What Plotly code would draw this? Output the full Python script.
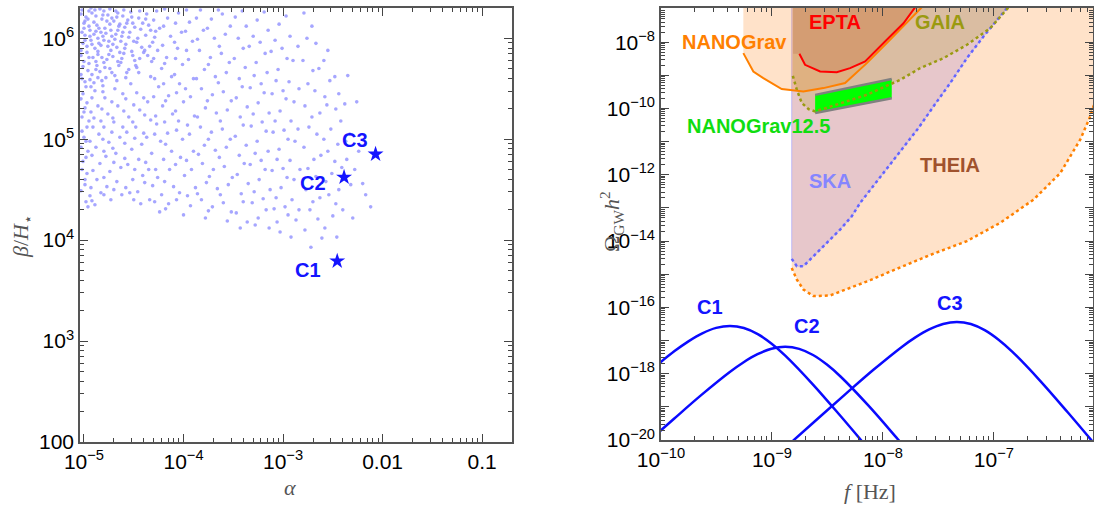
import numpy as np
import plotly.graph_objects as go

# ---------------- LEFT PANEL DATA (log10 alpha, log10 beta/H) ----------------
scan_points = [
    (-5.02,6.28),(-4.98,6.21),(-4.95,6.12),(-4.99,6.03),(-5.01,5.95),(-4.97,5.86),(-5.00,5.77),(-4.96,5.68),(-5.02,5.60),(-4.98,5.52),
    (-4.92,6.25),(-4.90,6.16),(-4.88,6.07),(-4.93,5.98),(-4.89,5.90),(-4.91,5.81),(-4.87,5.73),(-4.92,5.64),(-4.90,5.56),
    (-4.84,6.29),(-4.82,6.19),(-4.85,6.10),(-4.81,6.02),(-4.83,5.93),(-4.86,5.84),(-4.80,5.76),(-4.84,5.67),(-4.82,5.58),
    (-4.76,6.23),(-4.74,6.14),(-4.78,6.05),(-4.75,5.97),(-4.73,5.88),(-4.77,5.79),(-4.74,5.70),(-4.78,5.61),
    (-4.68,6.27),(-4.70,6.17),(-4.66,6.08),(-4.69,5.99),(-4.67,5.91),(-4.71,5.82),(-4.65,5.73),(-4.69,5.63),
    (-4.61,6.22),(-4.59,6.11),(-4.62,6.02),(-4.58,5.94),(-4.60,5.85),(-4.63,5.76),(-4.57,5.66),
    (-4.53,6.26),(-4.51,6.15),(-4.54,6.06),(-4.50,5.97),(-4.52,5.87),(-4.49,5.78),(-4.55,5.69),
    (-4.45,6.20),(-4.43,6.09),(-4.46,6.00),(-4.42,5.91),(-4.44,5.80),(-4.47,5.71),
    (-4.37,6.24),(-4.35,6.13),(-4.38,6.03),(-4.34,5.92),(-4.36,5.83),
    (-4.30,6.18),(-4.28,6.07),(-4.31,5.96),
    (-4.99,6.17),(-4.94,6.08),(-4.97,5.92),(-4.88,6.22),(-4.86,6.00),(-4.80,6.27),(-4.79,6.10),(-4.72,6.20),(-4.72,6.02),(-4.64,6.14),
    (-4.63,5.97),(-4.56,6.18),(-4.95,5.81),(-4.88,5.77),(-5.03,5.88),(-5.00,6.10),(-4.93,6.30),(-4.85,5.95),(-4.76,5.92),(-4.66,6.25),
    (-5.01,5.45),(-4.97,5.36),(-5.00,5.27),(-4.95,5.18),(-5.02,5.08),(-4.98,4.98),(-4.96,4.88),(-5.01,4.78),(-4.97,4.66),(-4.99,4.55),(-4.94,4.44),(-4.96,4.33),
    (-4.89,5.48),(-4.86,5.33),(-4.90,5.21),(-4.85,5.05),(-4.88,4.92),(-4.84,4.76),(-4.87,4.60),(-4.83,4.47),(-4.89,4.35),
    (-4.79,5.41),(-4.76,5.25),(-4.80,5.12),(-4.75,4.97),(-4.78,4.83),(-4.74,4.68),(-4.77,4.53),(-4.73,4.40),
    (-4.69,5.50),(-4.66,5.33),(-4.70,5.17),(-4.64,5.02),(-4.68,4.86),(-4.63,4.72),(-4.67,4.58),(-4.62,4.45),
    (-4.58,5.40),(-4.55,5.22),(-4.57,5.07),(-4.52,4.90),(-4.56,4.75),(-4.51,4.60),(-4.54,4.47),
    (-4.47,5.46),(-4.44,5.29),(-4.48,5.12),(-4.42,4.95),(-4.45,4.80),(-4.41,4.64),(-4.46,4.48),(-4.43,4.36),
    (-4.36,5.37),(-4.33,5.19),(-4.37,5.02),(-4.32,4.86),(-4.35,4.70),(-4.31,4.54),(-4.34,4.40),
    (-4.27,6.27),(-4.24,6.10),(-4.26,5.88),(-4.22,5.70),(-4.25,5.52),(-4.21,5.33),(-4.27,5.15),(-4.23,4.98),(-4.20,4.80),(-4.26,4.62),(-4.22,4.45),(-4.24,4.28),
    (-4.16,6.20),(-4.13,6.02),(-4.17,5.81),(-4.12,5.62),(-4.15,5.43),(-4.11,5.25),(-4.16,5.06),(-4.12,4.88),(-4.14,4.70),(-4.10,4.53),(-4.15,4.36),
    (-4.05,6.25),(-4.02,6.06),(-4.06,5.90),(-4.01,5.74),(-4.04,5.55),(-4.00,5.37),(-4.05,5.18),(-4.01,5.00),(-4.03,4.82),(-3.99,4.64),(-4.04,4.47),(-4.00,4.25),
    (-3.94,6.16),(-3.91,5.97),(-3.95,5.79),(-3.90,5.60),(-3.93,5.42),(-3.89,5.23),(-3.94,5.05),(-3.90,4.88),(-3.92,4.70),(-3.88,4.52),(-3.93,4.34),
    (-3.83,6.28),(-3.80,6.08),(-3.84,5.88),(-3.79,5.69),(-3.82,5.50),(-3.78,5.31),(-3.83,5.12),(-3.79,4.94),(-3.81,4.76),(-3.77,4.57),(-3.82,4.40),(-3.78,4.22),
    (-3.72,6.19),(-3.69,6.00),(-3.73,5.81),(-3.68,5.62),(-3.71,5.44),(-3.67,5.26),(-3.72,5.07),(-3.68,4.89),(-3.70,4.70),(-3.66,4.51),(-3.71,4.33),
    (-3.61,6.24),(-3.58,6.04),(-3.62,5.85),(-3.57,5.66),(-3.60,5.47),(-3.56,5.29),(-3.61,5.10),(-3.57,4.92),(-3.59,4.73),(-3.55,4.55),(-3.60,4.37),(-3.56,4.19),
    (-3.48,6.21),(-3.45,6.00),(-3.49,5.80),(-3.44,5.60),(-3.47,5.41),(-3.43,5.22),(-3.48,5.03),(-3.44,4.84),(-3.46,4.65),(-3.42,4.46),(-3.47,4.27),(-3.43,4.12),
    (-3.37,6.12),(-3.34,5.92),(-3.38,5.71),(-3.33,5.51),(-3.36,5.32),(-3.32,5.13),(-3.37,4.94),(-3.33,4.75),(-3.35,4.56),(-3.31,4.37),(-3.36,4.18),
    (-3.26,6.18),(-3.23,5.96),(-3.27,5.76),(-3.22,5.55),(-3.25,5.36),(-3.21,5.17),(-3.26,4.98),(-3.22,4.79),(-3.24,4.60),(-3.20,4.41),(-3.25,4.22),
    (-3.15,6.08),(-3.12,5.87),(-3.16,5.66),(-3.11,5.45),(-3.14,5.26),(-3.10,5.07),(-3.15,4.88),(-3.11,4.69),(-3.13,4.50),(-3.09,4.31),(-3.14,4.12),
    (-3.04,6.14),(-3.01,5.90),(-3.05,5.69),(-3.00,5.48),(-3.03,5.28),(-2.99,5.09),(-3.04,4.90),(-3.00,4.71),(-3.02,4.52),(-2.98,4.33),(-3.03,4.08),
    (-2.93,6.02),(-2.90,5.78),(-2.94,5.57),(-2.89,5.37),(-2.92,5.18),(-2.88,4.98),(-2.93,4.79),(-2.89,4.60),(-2.91,4.40),(-2.87,4.20),(-2.92,4.03),
    (-2.79,6.25),(-2.76,6.00),(-2.80,5.78),(-2.75,5.55),(-2.78,5.33),(-2.74,5.12),(-2.79,4.92),(-2.75,4.71),(-2.77,4.50),(-2.73,4.30),(-2.78,4.10),(-2.72,3.93),
    (-2.67,5.95),(-2.64,5.70),(-2.68,5.48),(-2.63,5.26),(-2.66,5.05),(-2.62,4.84),(-2.67,4.63),(-2.63,4.42),(-2.65,4.21),(-2.61,4.02),
    (-2.55,5.88),(-2.53,5.58),(-2.56,5.34),(-2.52,5.10),(-2.55,4.88),(-2.51,4.66),(-2.54,4.45),(-2.50,4.24),(-2.46,4.03),
    (-2.44,5.45),(-2.42,5.18),(-2.45,4.95),(-2.41,4.72),(-2.44,4.50),(-2.40,4.30),
    (-2.35,5.63),(-2.33,5.05),(-2.36,4.80),(-2.32,4.55),(-2.30,4.22),
    (-2.26,5.37),(-2.24,4.88),(-2.20,4.56),(-2.12,4.33),
    # second pass of points read between the first ones
    (-5.03,6.24),(-5.00,6.15),(-5.02,6.06),(-4.99,5.98),(-5.03,5.83),(-5.01,5.72),(-5.03,5.64),(-4.99,5.57),
    (-4.95,6.27),(-4.96,6.19),(-4.94,6.02),(-4.92,5.94),(-4.95,5.75),(-4.94,5.59),(-4.93,5.52),
    (-4.89,6.28),(-4.87,6.13),(-4.90,6.04),(-4.86,5.87),(-4.88,5.69),(-4.86,5.61),
    (-4.81,6.23),(-4.83,6.06),(-4.80,5.98),(-4.82,5.81),(-4.79,5.71),(-4.81,5.53),
    (-4.74,6.29),(-4.77,6.17),(-4.73,6.08),(-4.71,5.94),(-4.75,5.84),(-4.72,5.66),
    (-4.67,6.21),(-4.65,6.12),(-4.68,6.04),(-4.64,5.86),(-4.66,5.77),(-4.67,5.58),
    (-4.60,6.28),(-4.57,6.15),(-4.61,6.06),(-4.59,5.90),(-4.62,5.80),(-4.58,5.61),
    (-4.52,6.21),(-4.49,6.11),(-4.55,6.01),(-4.51,5.83),(-4.48,5.73),(-4.53,5.55),
    (-4.44,6.27),(-4.41,6.15),(-4.47,5.96),(-4.40,5.86),(-4.45,5.66),
    (-4.38,6.19),(-4.33,6.08),(-4.39,5.88),(-4.32,5.77),(-4.33,5.62),
    (-5.03,5.40),(-4.99,5.31),(-5.02,5.22),(-4.97,5.12),(-5.00,5.02),(-5.03,4.92),(-4.98,4.82),(-5.02,4.70),(-4.99,4.60),(-5.03,4.49),(-4.98,4.38),
    (-4.92,5.41),(-4.93,5.27),(-4.91,5.12),(-4.94,4.98),(-4.92,4.84),(-4.91,4.69),(-4.93,4.52),(-4.92,4.39),
    (-4.81,5.47),(-4.82,5.30),(-4.83,5.18),(-4.81,5.00),(-4.80,4.88),(-4.80,4.62),(-4.80,4.45),
    (-4.72,5.37),(-4.71,5.21),(-4.72,5.07),(-4.71,4.91),(-4.70,4.77),(-4.70,4.50),
    (-4.61,5.45),(-4.60,5.28),(-4.61,5.12),(-4.59,4.96),(-4.59,4.81),(-4.58,4.52),
    (-4.50,5.34),(-4.51,5.17),(-4.49,5.01),(-4.49,4.70),(-4.50,4.40),
    (-4.40,5.41),(-4.39,5.24),(-4.40,5.06),(-4.38,4.77),(-4.39,4.57),
    (-4.29,6.01),(-4.30,5.80),(-4.29,5.60),(-4.30,5.42),(-4.28,5.23),(-4.29,5.05),(-4.28,4.70),(-4.29,4.38),
    (-4.19,6.29),(-4.20,6.12),(-4.21,5.93),(-4.19,5.75),(-4.20,5.55),(-4.18,5.38),(-4.19,5.17),(-4.18,4.95),(-4.19,4.58),(-4.18,4.31),
    (-4.08,6.15),(-4.09,5.96),(-4.08,5.80),(-4.09,5.64),(-4.07,5.46),(-4.08,5.28),(-4.07,5.09),(-4.08,4.75),(-4.07,4.40),
    (-3.97,6.28),(-3.98,6.07),(-3.97,5.88),(-3.98,5.50),(-3.96,5.14),(-3.97,4.79),(-3.96,4.44),
    (-3.87,6.20),(-3.86,5.99),(-3.87,5.60),(-3.86,5.22),(-3.85,4.85),(-3.86,4.46),
    (-3.76,6.10),(-3.75,5.74),(-3.76,5.38),(-3.75,5.00),(-3.74,4.63),(-3.75,4.29),
    (-3.65,6.28),(-3.64,5.92),(-3.65,5.56),(-3.63,5.18),(-3.64,4.82),(-3.63,4.45),
    (-3.53,6.12),(-3.54,5.76),(-3.52,5.38),(-3.53,5.00),(-3.51,4.62),(-3.52,4.28),
    (-3.41,6.27),(-3.40,5.90),(-3.41,5.52),(-3.40,5.14),(-3.39,4.76),(-3.40,4.38),
    (-3.30,6.02),(-3.29,5.63),(-3.30,5.25),(-3.28,4.86),(-3.29,4.48),(-3.28,4.15),
    (-3.19,6.26),(-3.18,5.85),(-3.19,5.46),(-3.17,5.08),(-3.18,4.70),(-3.17,4.30),
    (-3.08,5.98),(-3.07,5.58),(-3.08,5.18),(-3.06,4.80),(-3.07,4.42),(-3.06,4.18),
    (-2.97,6.22),(-2.96,5.80),(-2.97,5.40),(-2.95,5.00),(-2.96,4.62),(-2.95,4.25),
    (-2.85,5.92),(-2.84,5.50),(-2.85,5.10),(-2.83,4.70),(-2.84,4.30),
    (-2.71,6.12),(-2.70,5.68),(-2.71,5.22),(-2.69,4.80),(-2.70,4.38),
    (-2.59,5.78),(-2.58,5.42),(-2.59,5.00),(-2.57,4.58),(-2.58,4.12),
    (-2.48,5.62),(-2.47,5.30),(-2.48,4.78),(-2.47,4.36),
    (-2.38,5.35),(-2.37,4.98),(-2.38,4.62),(-2.28,4.70),(-2.17,4.45),
]
bench_names = ["C1", "C2", "C3"]
bench_alpha = [3.5e-3, 4.1e-3, 8.5e-3]
bench_beta = [6.2e3, 4.2e4, 7.1e4]

# ---------------- RIGHT PANEL DATA (log10 f, log10 Omega h^2) ----------------
c1_logf = [-10.128, -9.878, -9.753, -9.628, -9.503, -9.378, -9.253, -9.128, -9.003, -8.878, -8.628, -8.378, -8.128]
c1_logo = [-17.995, -17.319, -17.024, -16.783, -16.619, -16.56, -16.622, -16.807, -17.096, -17.462, -18.335, -19.292, -20.279]
c2_logf = [-10.13, -9.88, -9.63, -9.38, -9.255, -9.13, -9.005, -8.88, -8.755, -8.63, -8.505, -8.38, -8.13, -7.88, -7.63]
c2_logo = [-20.093, -19.351, -18.625, -17.949, -17.654, -17.413, -17.249, -17.19, -17.252, -17.437, -17.726, -18.092, -18.965, -19.922, -20.909]
c3_logf = [-8.833, -8.583, -8.333, -8.083, -7.833, -7.708, -7.583, -7.458, -7.333, -7.208, -7.083, -6.958, -6.833, -6.583, -6.333, -6.083]
c3_logo = [-20.091, -19.343, -18.601, -17.875, -17.199, -16.904, -16.663, -16.499, -16.44, -16.502, -16.687, -16.976, -17.342, -18.215, -19.172, -20.159]

epta_logf = [-8.753, -8.702, -8.566, -8.416, -8.296, -8.160, -7.965, -7.815, -7.71]
epta_logo = [-8.352, -8.684, -8.885, -8.905, -8.785, -8.584, -7.93, -7.43, -6.95]
epta_edge_logf = -8.81

nanograv_logf = [-9.258, -9.168, -9.078, -8.912, -8.717, -8.536, -8.341, -8.145, -7.965, -7.785, -7.65]
nanograv_logo = [-8.331, -8.885, -9.084, -9.416, -9.488, -9.386, -9.235, -8.633, -8.03, -7.43, -6.95]

gaia_logf = [-8.812, -8.776, -8.731, -8.67, -8.611, -8.50, -8.386, -8.145, -7.935, -7.845, -7.665, -7.454, -7.243, -7.033, -6.868]
gaia_logo = [-9.015, -9.437, -9.837, -10.02, -10.09, -9.98, -9.85, -9.587, -9.286, -9.136, -8.785, -8.482, -8.08, -7.58, -6.95]

ska_logf = [-8.822, -8.776, -8.717, -8.656, -8.566, -8.476, -8.386, -8.281, -8.206, -7.95, -7.68, -7.545, -7.394, -7.243, -7.094, -6.883]
ska_logo = [-14.536, -14.759, -14.759, -14.557, -14.256, -13.955, -13.654, -13.253, -12.85, -11.75, -10.59, -9.94, -9.235, -8.482, -7.83, -6.976]

theia_logf = [-8.822, -8.776, -8.717, -8.627, -8.476, -8.296, -8.115, -7.935, -7.755, -7.575, -7.243, -6.943, -6.643, -6.402, -6.222, -6.132, -6.07]
theia_logo = [-14.81, -15.16, -15.46, -15.66, -15.64, -15.41, -15.18, -14.92, -14.66, -14.42, -14.0, -13.45, -12.75, -11.95, -10.94, -10.24, -9.6]

ng125_f = [2.45e-9, 1.2e-8]
ng125_low = [10**-10.14, 10**-9.69]
ng125_high = [10**-9.59, 10**-9.11]

top_logo = -6.85  # upper edge of the open sensitivity regions (beyond plot top)

def p10(v):
    return [10.0**x for x in v]

fig = go.Figure()

# ---- left panel ----
lx = [p[0] for p in scan_points]
ly = [p[1] for p in scan_points]
fig.add_trace(go.Scatter(x=p10(lx), y=p10(ly), mode="markers",
                         marker=dict(size=3.6, color="rgba(150,150,255,0.85)"),
                         xaxis="x", yaxis="y", showlegend=False, hoverinfo="skip"))
fig.add_trace(go.Scatter(x=bench_alpha, y=bench_beta, mode="markers",
                         marker=dict(symbol="star", size=12, color="#1414ff", line=dict(width=0)),
                         xaxis="x", yaxis="y", showlegend=False))

# ---- right panel regions ----
def region(curve_f, curve_o, left_f=None, right_f=None):
    xs, ys = [], []
    lf = curve_f[0] if left_f is None else left_f
    xs += [lf, lf]; ys += [top_logo, curve_o[0]]
    xs += list(curve_f); ys += list(curve_o)
    rf = curve_f[-1] if right_f is None else right_f
    xs += [rf, rf]; ys += [curve_o[-1], top_logo]
    return p10(xs), p10(ys)

def add_fill(xs, ys, color, line=None):
    fig.add_trace(go.Scatter(x=xs, y=ys, mode="lines", fill="toself", fillcolor=color,
                             line=line or dict(width=0, color="rgba(0,0,0,0)"),
                             xaxis="x2", yaxis="y2", showlegend=False, hoverinfo="skip"))

xs, ys = region(theia_logf, theia_logo, right_f=-6.0)
add_fill(xs, ys, "rgba(255,140,40,0.25)")
xs, ys = region(ska_logf, ska_logo)
add_fill(xs, ys, "rgba(135,95,215,0.2)", line=dict(width=1, color="rgba(170,170,255,0.7)"))
xs, ys = region(nanograv_logf, nanograv_logo)
add_fill(xs, ys, "rgba(255,140,40,0.25)")
xs, ys = region(gaia_logf, gaia_logo)
add_fill(xs, ys, "rgba(170,150,0,0.2)")
xs, ys = region(epta_logf, epta_logo, left_f=epta_edge_logf)
add_fill(xs, ys, "rgba(175,85,70,0.22)")

# NANOGrav 12.5 band
fig.add_trace(go.Scatter(x=ng125_f + ng125_f[::-1], y=ng125_high + ng125_low[::-1], mode="lines",
                         fill="toself", fillcolor="#00ff00", line=dict(width=0),
                         xaxis="x2", yaxis="y2", showlegend=False, hoverinfo="skip"))
for edge in (ng125_high, ng125_low):
    fig.add_trace(go.Scatter(x=ng125_f, y=edge, mode="lines", line=dict(color="#808080", width=2.5),
                             xaxis="x2", yaxis="y2", showlegend=False, hoverinfo="skip"))

# boundary lines
def add_line(lf, lo, color, dash=None, width=2):
    fig.add_trace(go.Scatter(x=p10(lf), y=p10(lo), mode="lines",
                             line=dict(color=color, width=width, dash=dash or "solid"),
                             xaxis="x2", yaxis="y2", showlegend=False, hoverinfo="skip"))

add_line(theia_logf, theia_logo, "#ff8000", dash="3px,3px", width=2.5)
add_line(ska_logf, ska_logo, "#6464ff", dash="3px,3px", width=2.5)
add_line(gaia_logf, gaia_logo, "#9a9a10", dash="3px,3px", width=2.5)
add_line(nanograv_logf, nanograv_logo, "#ff8000", width=2)
add_line(epta_logf, epta_logo, "#ff0000", width=2)

for cf, co in ((c1_logf, c1_logo), (c2_logf, c2_logo), (c3_logf, c3_logo)):
    fig.add_trace(go.Scatter(x=p10(cf), y=p10(co), mode="lines", line=dict(color="#0a0aff", width=2.5, shape="spline"),
                             xaxis="x2", yaxis="y2", showlegend=False, hoverinfo="skip"))

# ---------------- axes ----------------
def minors(e0, e1):
    return [m * 10.0 ** e for e in range(e0, e1) for m in range(2, 10)]

FRAME = "#555555"
base = dict(type="log", showline=True, linecolor=FRAME, linewidth=1.5, mirror="allticks",
            ticks="inside", ticklen=8, tickwidth=1, tickcolor="#444444", showgrid=False, zeroline=False,
            automargin=False,
            tickfont=dict(family="Liberation Sans, Arial, sans-serif", size=21, color="black"))

def sup(e):
    return "10<sup>%s</sup>" % (("−%d" % -e) if e < 0 else str(e))

minor_style = dict(ticks="inside", ticklen=4, tickwidth=1, tickcolor="#444444", showgrid=False)

fig.update_layout(
    width=1094, height=507, margin=dict(l=0, r=0, t=0, b=0, autoexpand=False),
    paper_bgcolor="white", plot_bgcolor="white",
    xaxis=dict(base, domain=[80/1094, 512/1094], range=[-5.04, -0.70], anchor="y",
               tickmode="array", tickvals=[1e-5, 1e-4, 1e-3, 1e-2, 1e-1],
               ticktext=[sup(-5), sup(-4), sup(-3), "0.01", "0.1"],
               minor=dict(minor_style, tickmode="array", tickvals=minors(-6, 0))),
    yaxis=dict(base, domain=[65/507, 499/507], range=[2.0, 6.30], anchor="x",
               tickmode="array", tickvals=[1e2, 1e3, 1e4, 1e5, 1e6],
               ticktext=["100", sup(3), sup(4), sup(5), sup(6)],
               minor=dict(minor_style, tickmode="array", tickvals=minors(2, 7))),
    xaxis2=dict(base, domain=[661/1094, 1093/1094], range=[-10, -6.107], anchor="y2",
                tickmode="array", tickvals=[1e-10, 1e-9, 1e-8, 1e-7],
                ticktext=[sup(-10), sup(-9), sup(-8), sup(-7)],
                minor=dict(minor_style, tickmode="array", tickvals=minors(-11, -5))),
    yaxis2=dict(base, domain=[67/507, 499/507], range=[-20, -6.97], anchor="x2",
                tickmode="array", tickvals=[10.0 ** e for e in range(-20, -6)],
                ticktext=[sup(e) if e % 2 == 0 else "" for e in range(-20, -6)],
                minor=dict(minor_style, tickmode="array", tickvals=minors(-21, -6))),
)

# ---------------- annotations ----------------
ann = []
SANS = "Liberation Sans, Arial, sans-serif"
SERIF = "Liberation Serif, Times New Roman, serif"
bench_label_pos = [(-2.753, 3.70), (-2.703, 4.565), (-2.28, 4.99)]
for name, (ax_, ay_) in zip(bench_names, bench_label_pos):
    ann.append(dict(x=ax_, y=ay_, xref="x", yref="y", text="<b>%s</b>" % name, showarrow=False,
                    xanchor="center", yanchor="middle",
                    font=dict(family=SANS, size=20, color="#1414ff")))

right_labels = [
    ("EPTA", -8.431, -7.38, "#ff0000"),
    ("GAIA", -7.484, -7.38, "#9a9a10"),
    ("NANOGrav", -9.339, -8.01, "#ff8000"),
    ("NANOGrav12.5", -9.123, -10.52, "#10dd10"),
    ("SKA", -8.476, -12.18, "#8585ff"),
    ("THEIA", -7.394, -11.72, "#a0522d"),
    ("C1", -9.558, -15.98, "#1414ff"),
    ("C2", -8.686, -16.55, "#1414ff"),
    ("C3", -7.394, -15.86, "#1414ff"),
]
for t, x_, y_, c in right_labels:
    ann.append(dict(x=x_, y=y_, xref="x2", yref="y2", text="<b>%s</b>" % t, showarrow=False,
                    xanchor="center", yanchor="middle",
                    font=dict(family=SANS, size=20, color=c)))

title_font = dict(family=SERIF, size=22, color="#555555")
ann += [
    dict(x=290/1094, y=1-487/507, xref="paper", yref="paper", text="<i>α</i>", showarrow=False,
         xanchor="center", yanchor="middle", font=title_font),
    dict(x=870/1094, y=1-491/507, xref="paper", yref="paper", text="<i>f</i> [Hz]", showarrow=False,
         xanchor="center", yanchor="middle", font=title_font),
    dict(x=22/1094, y=1-237/507, xref="paper", yref="paper", text="<i>β</i>/<i>H</i><sub>⋆</sub>",
         showarrow=False, textangle=-90, xanchor="center", yanchor="middle", font=title_font),
    dict(x=611/1094, y=1-222/507, xref="paper", yref="paper", text="Ω<sub>GW</sub><i>h</i><sup>2</sup>",
         showarrow=False, textangle=-90, xanchor="center", yanchor="middle", font=title_font),
]
fig.update_layout(annotations=ann)

fig.write_html("out.html")
